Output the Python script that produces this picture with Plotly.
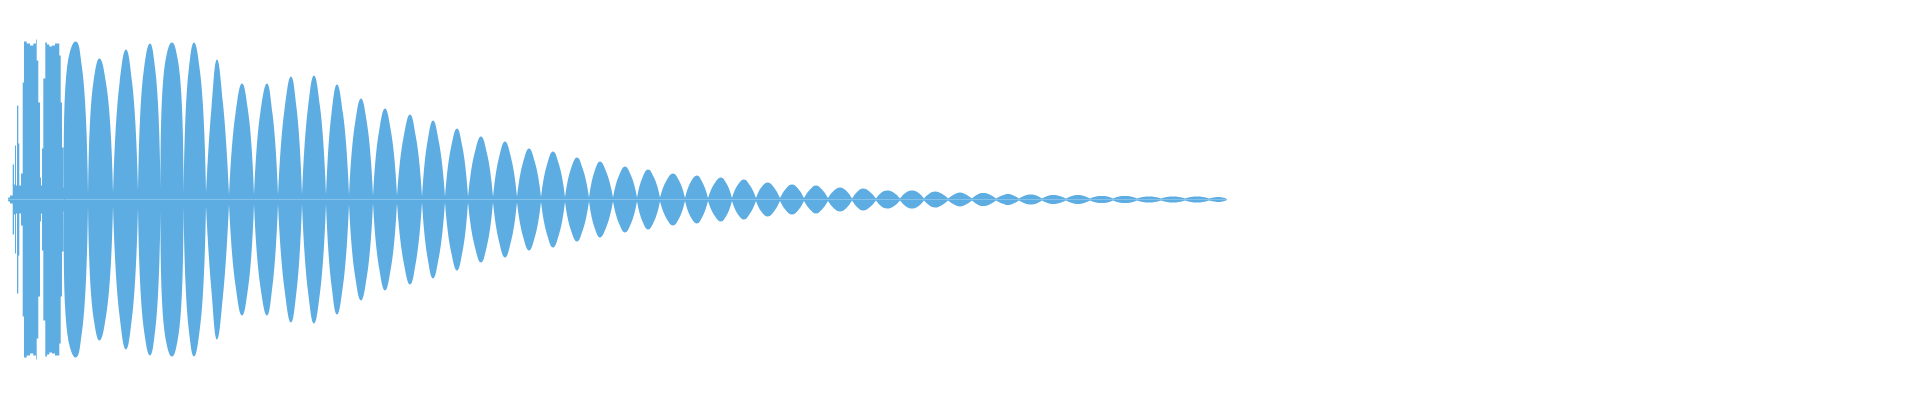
import plotly.graph_objects as go

# ---- data (x in sample buckets, amplitude in arbitrary units, symmetric waveform) ----
intro_x = [5, 8.3, 10, 12.7, 14, 15, 16, 17, 18.3, 19.3, 21, 22.7, 24, 26.7, 30, 33.3, 36,
           36.7, 38.3, 40, 41, 42, 43.3, 45.3, 47, 49.3, 52, 55, 59.3, 60.7, 62, 63.7, 65]
intro_amp = [1, 2, 4, 35, 15, 54, 14, 94, 56, 14, 26, 117, 158, 156, 154, 156, 160,
             139, 97, 22, 14, 51, 121, 157, 155, 153, 154, 156, 144, 97, 52, 12, 12]

lobe_bounds = [64, 88, 113, 138, 160.5, 183.5, 206, 229, 254, 278, 302, 326, 349, 373, 397,
               422, 445, 468, 493, 517, 541, 565, 589, 613, 637, 660, 685, 708, 732, 756,
               780, 804, 828, 852, 876, 900, 924, 948, 972, 996, 1019, 1042, 1066, 1090,
               1113, 1137, 1161, 1185, 1209, 1227]
valley_amp = [12, 6, 7, 9, 11, 7, 7, 5, 5, 5, 5, 5, 5, 4, 4, 3, 3, 3, 3, 3, 2.5, 2.5, 2, 2,
              2, 2, 1.5, 1.5, 1.5, 1.5, 1.5, 1.5, 1.5, 1, 1, 1, 1, 1, 1, 1, 1, 1, 1, 1, 1,
              1, 1, 1, 1, 0.5]
lobe_peak_x = [76, 99.5, 126, 150, 172, 194, 217, 242, 267, 291, 314, 337, 361, 385, 410,
               433, 457, 481, 505, 529, 553, 577, 600, 625, 648, 673, 697, 721, 744, 768,
               792, 816, 840, 863, 887, 912, 935, 960, 983, 1008, 1031, 1053, 1078, 1102,
               1125, 1149, 1173, 1197, 1218]
lobe_peak_amp = [158, 141, 150, 156, 157, 157, 140, 116, 116, 123, 124, 115, 101, 91, 85,
                 79, 71, 63, 58, 51, 48, 42, 38, 33, 30, 26, 24, 22, 20, 17, 15, 14, 12,
                 11, 9, 9, 8, 7, 6.5, 5.5, 5, 4.5, 4.5, 3.5, 3.5, 3, 3, 3, 2.5]
# amplitude half-way between the lobe's left edge and its peak, and between peak and right edge
lobe_left_amp = [148, 120, 116, 131, 143, 130, 92, 86, 88, 90, 92, 86, 76, 68, 62,
                 58, 52, 46, 42, 37, 35, 31, 28, 24, 22, 19, 18, 16, 15, 13, 11, 10, 9,
                 8, 7, 7, 6, 5, 5, 4, 4, 3.5, 3.5, 3, 3, 2.5, 2.5, 2.5, 2]
lobe_right_amp = [132, 115, 118, 130, 140, 128, 96, 89, 86, 92, 93, 86, 76, 68, 62,
                  57, 52, 46, 42, 37, 35, 30, 27, 24, 22, 19, 17, 16, 14, 12, 11, 10, 9,
                  8, 7, 7, 6, 5, 5, 4, 4, 3.5, 3.5, 3, 3, 2.5, 2.5, 2.5, 2]

COLOR = "#5DADE2"

fig = go.Figure()

# intro / first irregular lobes (stepped)
for sign in (1, -1):
    fig.add_trace(go.Scatter(
        x=intro_x, y=[sign * a for a in intro_amp], mode="lines",
        line=dict(shape="hv", width=0, color=COLOR),
        fill="tozeroy", fillcolor=COLOR, hoverinfo="skip", showlegend=False))

# regular beat lobes
tx, ty = [], []
for i, px in enumerate(lobe_peak_x):
    s, e = lobe_bounds[i], lobe_bounds[i + 1]
    tx += [s, (s + px) / 2, px, (px + e) / 2, e, None]
    ty += [valley_amp[i], lobe_left_amp[i], lobe_peak_amp[i], lobe_right_amp[i],
           valley_amp[i + 1], None]

for sign in (1, -1):
    fig.add_trace(go.Scatter(
        x=tx, y=[None if v is None else sign * v for v in ty], mode="lines",
        line=dict(shape="spline", smoothing=1.3, width=0, color=COLOR),
        fill="tozeroy", fillcolor=COLOR, connectgaps=False,
        hoverinfo="skip", showlegend=False))

# page body has an 8px margin: size the figure to fit inside it
fig.update_layout(
    width=1904, height=384,
    margin=dict(l=0, r=0, t=0, b=0, pad=0),
    paper_bgcolor="white", plot_bgcolor="white",
    xaxis=dict(range=[8, 1912], visible=False, fixedrange=True),
    yaxis=dict(range=[-192.5, 191.5], visible=False, fixedrange=True),
)

fig.write_html("out.html")
